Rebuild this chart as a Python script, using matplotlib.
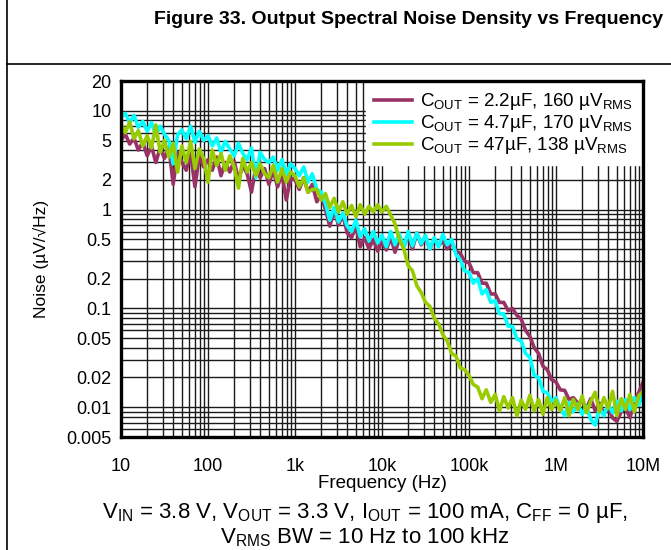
import matplotlib
matplotlib.use("Agg")
import matplotlib.pyplot as plt
from matplotlib.lines import Line2D
from matplotlib.ticker import FixedLocator, NullFormatter

plt.rcParams['font.family'] = ['Liberation Sans', 'DejaVu Sans']
plt.rcParams['mathtext.fontset'] = 'custom'
plt.rcParams['mathtext.rm'] = 'Liberation Sans'

# frequency grid: 20 points per decade, 10 Hz .. 10 MHz
mantissas = [1.00, 1.12, 1.26, 1.41, 1.58, 1.78, 2.00, 2.24, 2.51, 2.82,
             3.16, 3.55, 3.98, 4.47, 5.01, 5.62, 6.31, 7.08, 7.94, 8.91]
decades = [10, 100, 1e3, 1e4, 1e5, 1e6]
freq = [m * d for d in decades for m in mantissas] + [1e7]

# noise (uV/rtHz), one list per decade
noise_22uF = (
    [5.0, 5.8, 4.6, 5.3, 4.0, 4.8, 3.5, 4.4, 3.0, 4.2, 3.3, 4.3, 1.8, 3.8, 3.0, 2.5, 3.7, 1.7, 3.5, 2.7]
    + [3.2, 2.5, 3.4, 2.2, 3.0, 2.4, 3.1, 2.0, 2.8, 2.3, 1.5, 2.7, 2.1, 2.6, 1.8, 2.5, 1.7, 2.3, 1.25, 2.1]
    + [2.0, 1.6, 2.1, 1.5, 1.8, 1.2, 1.4, 1.0, 0.68, 0.98, 0.7, 0.88, 0.58, 0.52, 0.68, 0.42, 0.52, 0.4, 0.5, 0.38]
    + [0.47, 0.39, 0.52, 0.37, 0.5, 0.42, 0.55, 0.4, 0.58, 0.44, 0.52, 0.4, 0.5, 0.43, 0.48, 0.4, 0.46, 0.38, 0.36, 0.3]
    + [0.29, 0.23, 0.23, 0.18, 0.18, 0.14, 0.14, 0.115, 0.115, 0.095, 0.1, 0.085, 0.078, 0.06, 0.052, 0.04, 0.035, 0.026, 0.024, 0.019]
    + [0.018, 0.015, 0.0148, 0.012, 0.0125, 0.011, 0.0115, 0.0098, 0.0122, 0.0092, 0.011, 0.0085, 0.01, 0.0078, 0.0072, 0.009, 0.0098, 0.0078, 0.0115, 0.014, 0.018]
)
noise_47uF_small = (
    [8.5, 9.4, 7.6, 9.0, 6.8, 7.8, 6.2, 7.6, 5.6, 7.0, 5.8, 5.0, 2.9, 5.7, 6.4, 5.2, 7.0, 4.8, 6.2, 5.0]
    + [5.6, 4.4, 5.3, 3.8, 4.9, 4.1, 3.5, 4.7, 3.7, 3.2, 4.2, 2.1, 3.8, 3.2, 3.0, 3.4, 2.5, 3.2, 2.3, 2.9]
    + [2.6, 2.2, 2.7, 1.9, 2.3, 1.6, 1.5, 1.15, 0.78, 1.05, 0.75, 0.92, 0.68, 0.6, 0.78, 0.53, 0.64, 0.48, 0.6, 0.46]
    + [0.55, 0.42, 0.6, 0.44, 0.57, 0.41, 0.6, 0.43, 0.58, 0.45, 0.55, 0.4, 0.52, 0.42, 0.56, 0.44, 0.5, 0.35, 0.31, 0.24]
    + [0.23, 0.18, 0.2, 0.14, 0.155, 0.115, 0.12, 0.088, 0.088, 0.066, 0.066, 0.049, 0.047, 0.035, 0.032, 0.021, 0.02, 0.0145, 0.014, 0.0115]
    + [0.0125, 0.0098, 0.0082, 0.0112, 0.009, 0.0108, 0.0085, 0.0102, 0.0075, 0.0066, 0.0098, 0.0082, 0.0108, 0.0088, 0.0115, 0.0092, 0.012, 0.0095, 0.0125, 0.0105, 0.0135]
)
noise_47uF = (
    [7.4, 6.0, 7.7, 5.2, 6.3, 4.4, 5.6, 4.2, 7.2, 3.8, 5.0, 3.4, 4.7, 2.4, 4.4, 3.0, 4.9, 2.6, 4.1, 3.3]
    + [1.9, 4.0, 2.8, 3.7, 2.5, 3.5, 2.7, 1.65, 3.3, 2.4, 3.0, 2.2, 2.9, 2.3, 2.1, 2.8, 1.9, 2.6, 1.9, 2.4]
    + [2.2, 1.7, 2.1, 1.5, 1.6, 1.6, 1.25, 1.45, 1.05, 1.3, 0.95, 1.2, 0.9, 1.1, 0.85, 1.12, 0.9, 1.08, 0.95, 1.12]
    + [0.95, 1.08, 0.88, 0.72, 0.5, 0.4, 0.27, 0.24, 0.17, 0.145, 0.115, 0.105, 0.08, 0.07, 0.054, 0.047, 0.035, 0.033, 0.025, 0.024]
    + [0.021, 0.017, 0.016, 0.0122, 0.015, 0.0112, 0.0135, 0.0092, 0.0128, 0.0098, 0.0125, 0.0082, 0.0118, 0.0095, 0.0132, 0.0092, 0.012, 0.0085, 0.0125, 0.0095]
    + [0.0118, 0.0092, 0.0125, 0.0082, 0.012, 0.0095, 0.013, 0.0088, 0.0115, 0.0142, 0.009, 0.0125, 0.0098, 0.0145, 0.0082, 0.0122, 0.0095, 0.0135, 0.009, 0.013, 0.0145]
)

labels = [
    r'C$_\mathregular{OUT}$ = 2.2µF, 160 µV$_\mathregular{RMS}$',
    r'C$_\mathregular{OUT}$ = 4.7µF, 170 µV$_\mathregular{RMS}$',
    r'C$_\mathregular{OUT}$ = 47µF, 138 µV$_\mathregular{RMS}$',
]
colors = ['#993366', '#00FFFF', '#99CC00']

y_ticks = [0.005, 0.01, 0.02, 0.05, 0.1, 0.2, 0.5, 1, 2, 5, 10, 20]
y_ticklabels = ['0.005', '0.01', '0.02', '0.05', '0.1', '0.2', '0.5', '1', '2', '5', '10', '20']
x_ticks = [10, 100, 1e3, 1e4, 1e5, 1e6, 1e7]
x_ticklabels = ['10', '100', '1k', '10k', '100k', '1M', '10M']

fig = plt.figure(figsize=(6.71, 5.50), dpi=100)
ax = fig.add_axes([121 / 671, 1 - 437 / 550, 522 / 671, 356 / 550])

for series, c, lab in zip([noise_22uF, noise_47uF_small, noise_47uF], colors, labels):
    ax.plot(freq, series, color=c, lw=2.6, label=lab, zorder=3)

ax.set_xscale('log')
ax.set_yscale('log')
ax.set_xlim(10, 1e7)
ax.set_ylim(0.005, 20)

# grid: every 1..9 step of each decade
minor_x = [m * d for d in [10, 100, 1e3, 1e4, 1e5, 1e6] for m in range(2, 10)]
minor_y = [m * d for d in [0.001, 0.01, 0.1, 1, 10] for m in range(1, 10)]
minor_y = [v for v in minor_y if 0.005 <= v <= 20]
ax.xaxis.set_major_locator(FixedLocator(x_ticks))
ax.xaxis.set_minor_locator(FixedLocator(minor_x))
ax.yaxis.set_major_locator(FixedLocator(y_ticks))
ax.yaxis.set_minor_locator(FixedLocator(minor_y))
ax.set_xticklabels(x_ticklabels)
ax.set_yticklabels(y_ticklabels)
ax.xaxis.set_minor_formatter(NullFormatter())
ax.yaxis.set_minor_formatter(NullFormatter())
ax.grid(which='both', color='#1a1a1a', lw=1.0, zorder=1)
ax.tick_params(which='both', length=0, labelsize=13)
ax.tick_params(axis='x', pad=15)
ax.tick_params(axis='y', pad=7)
ax.set_axisbelow(True)
for s in ax.spines.values():
    s.set_linewidth(2.4)
    s.set_zorder(5)

ax.set_xlabel('Frequency (Hz)', fontsize=13.5, labelpad=0)
ax.set_ylabel('Noise (µV/√Hz)', fontsize=12.5, labelpad=12)

leg = ax.legend(loc='upper right', bbox_to_anchor=(1, 1), borderaxespad=0.1,
                frameon=True, fancybox=False, framealpha=1, edgecolor='white',
                facecolor='white', fontsize=13.5, handlelength=2.0,
                labelspacing=0.05, borderpad=0.45, handletextpad=0.45)
leg.set_zorder(4)

fig.text(663 / 671, 1 - 20 / 550, 'Figure 33. Output Spectral Noise Density vs Frequency',
         ha='right', va='center', fontsize=14, fontweight='bold')
fig.text(365 / 671, 1 - 513 / 550,
         r'V$_\mathregular{IN}$ = 3.8 V, V$_\mathregular{OUT}$ = 3.3 V, '
         r'I$_\mathregular{OUT}$ = 100 mA, C$_\mathregular{FF}$ = 0 µF,',
         ha='center', va='center', fontsize=16)
fig.text(365 / 671, 1 - 537 / 550, r'V$_\mathregular{RMS}$ BW = 10 Hz to 100 kHz',
         ha='center', va='center', fontsize=16)

# page frame lines
fig.add_artist(Line2D([7 / 671, 7 / 671], [0, 1], color='black', lw=1.2,
                      transform=fig.transFigure))
fig.add_artist(Line2D([7 / 671, 1], [1 - 64 / 550, 1 - 64 / 550], color='black', lw=1.2,
                      transform=fig.transFigure))

fig.savefig('out.png', dpi=100)
